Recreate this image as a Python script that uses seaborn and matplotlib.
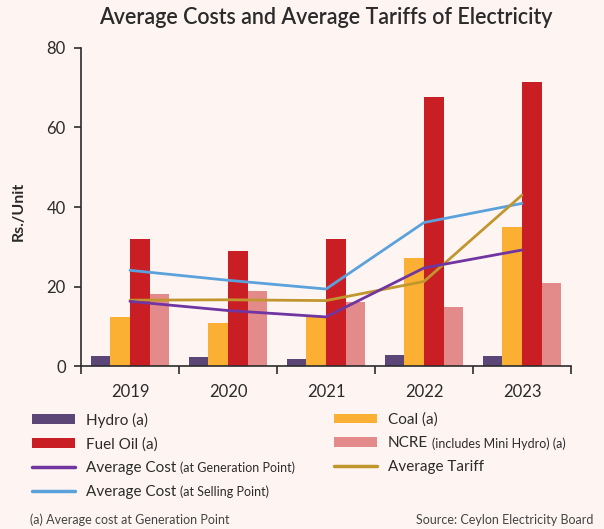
import numpy as np
import pandas as pd
import matplotlib
matplotlib.use("Agg")
import matplotlib.pyplot as plt
import seaborn as sns
from matplotlib.patches import Patch
from matplotlib.lines import Line2D

years = ["2019", "2020", "2021", "2022", "2023"]
hydro = [2.6, 2.3, 1.75, 2.8, 2.5]
coal = [12.4, 10.9, 12.4, 27.3, 35.1]
fuel_oil = [31.9, 29.0, 31.9, 67.5, 71.5]
ncre = [18.2, 19.0, 16.2, 14.9, 20.8]
avg_gen = [16.3, 14.0, 12.4, 24.7, 29.2]
avg_sell = [24.1, 21.6, 19.4, 36.1, 40.9]
avg_tariff = [16.6, 16.7, 16.5, 21.3, 43.0]

bar_series = ["Hydro (a)", "Coal (a)", "Fuel Oil (a)", "NCRE (includes Mini Hydro) (a)"]
bar_colors = ["#5B4677", "#FBB034", "#C91F24", "#E38A8A"]
c_gen, c_sell, c_tar = "#7035A0", "#5BA2DC", "#C1962F"

BG = "#FEF5F3"
FONT = "Lato"
TXT = "#2b2b2b"

sns.set_theme(style="ticks")
plt.rcParams["font.family"] = [FONT, "DejaVu Sans"]

df = pd.DataFrame({
    "Year": years * 4,
    "Series": np.repeat(bar_series, len(years)),
    "Value": hydro + coal + fuel_oil + ncre,
})

W, H = 604, 529
fig = plt.figure(figsize=(W / 100, H / 100), dpi=100, facecolor=BG)
ax = fig.add_axes([81 / W, 1 - 366.3 / H, (571 - 81) / W, (366.3 - 47.7) / H])
ax.set_facecolor(BG)

sns.barplot(data=df, x="Year", y="Value", hue="Series", order=years,
            hue_order=bar_series, palette=bar_colors, width=0.8,
            linewidth=0, saturation=1, ax=ax, legend=False)

xpos = np.arange(len(years))
lw = 2.0
sns.lineplot(x=xpos, y=avg_sell, color=c_sell, lw=lw, ax=ax)
sns.lineplot(x=xpos, y=avg_tariff, color=c_tar, lw=lw, ax=ax)
sns.lineplot(x=xpos, y=avg_gen, color=c_gen, lw=lw, ax=ax)

ax.set_xlim(-0.5, len(years) - 0.5)
ax.set_ylim(0, 80)
ax.set_yticks([0, 20, 40, 60, 80])
ax.set_xticks(xpos)
ax.set_xticklabels(years)
ax.set_xticks(np.arange(-0.5, len(years)), minor=True)
ax.tick_params(axis="x", which="major", length=0, pad=13, labelsize=12, labelcolor=TXT)
ax.tick_params(axis="x", which="minor", length=6, width=1.2, color=TXT, direction="out")
ax.tick_params(axis="y", length=5, width=1.2, color=TXT, labelsize=12, labelcolor=TXT, pad=6)
sns.despine(ax=ax)
for s in ["left", "bottom"]:
    ax.spines[s].set_color(TXT)
    ax.spines[s].set_linewidth(1.2)
ax.set_xlabel("")
ax.set_ylabel("")

fig.text(19 / W, 1 - 211 / H, "Rs./Unit", rotation=90, ha="center", va="center",
         fontsize=11.5, fontweight="bold", color=TXT)
fig.text(325.5 / W, 1 - 18 / H, "Average Costs and Average Tariffs of Electricity",
         ha="center", va="center", fontsize=15.5, fontweight="semibold", color=TXT)

# legends
lfs = 11
def patch(c):
    return Patch(facecolor=c, edgecolor="none")

h1 = [patch(bar_colors[0]), patch(bar_colors[2]),
      Line2D([], [], color=c_gen, lw=2.5), Line2D([], [], color=c_sell, lw=2.5)]
l1 = ["Hydro (a)", "Fuel Oil (a)", "Average Cost", "Average Cost"]
h2 = [patch(bar_colors[1]), patch(bar_colors[3]), Line2D([], [], color=c_tar, lw=2.5)]
l2 = ["Coal (a)", "NCRE", "Average Tariff"]

common = dict(frameon=False, fontsize=lfs, handlelength=2.8, handleheight=0.6,
              handletextpad=0.72, labelspacing=0.63, borderaxespad=0, borderpad=0,
              labelcolor=TXT, loc="upper left")
leg1 = fig.legend(h1, l1, bbox_to_anchor=(32 / W, 1 - 412.5 / H), **common)
leg2 = fig.legend(h2, l2, bbox_to_anchor=(334 / W, 1 - 412.5 / H), **common)

fig.canvas.draw()
r = fig.canvas.get_renderer()
inv = fig.transFigure.inverted()
def suffix(txt, s):
    bb = txt.get_window_extent(r)
    x, y = inv.transform((bb.x1 + 4, (bb.y0 + bb.y1) / 2))
    fig.text(x, y, s, fontsize=9, color=TXT, ha="left", va="center")
t1 = leg1.get_texts()
suffix(t1[2], "(at Generation Point)")
suffix(t1[3], "(at Selling Point)")
t2 = leg2.get_texts()
suffix(t2[1], "(includes Mini Hydro) (a)")

fig.text(30 / W, 1 - 520 / H, "(a) Average cost at Generation Point", fontsize=9,
         color="#444444", ha="left", va="center")
fig.text(593 / W, 1 - 520 / H, "Source: Ceylon Electricity Board", fontsize=9,
         color="#444444", ha="right", va="center")

fig.savefig("out.png", dpi=100, facecolor=BG)
